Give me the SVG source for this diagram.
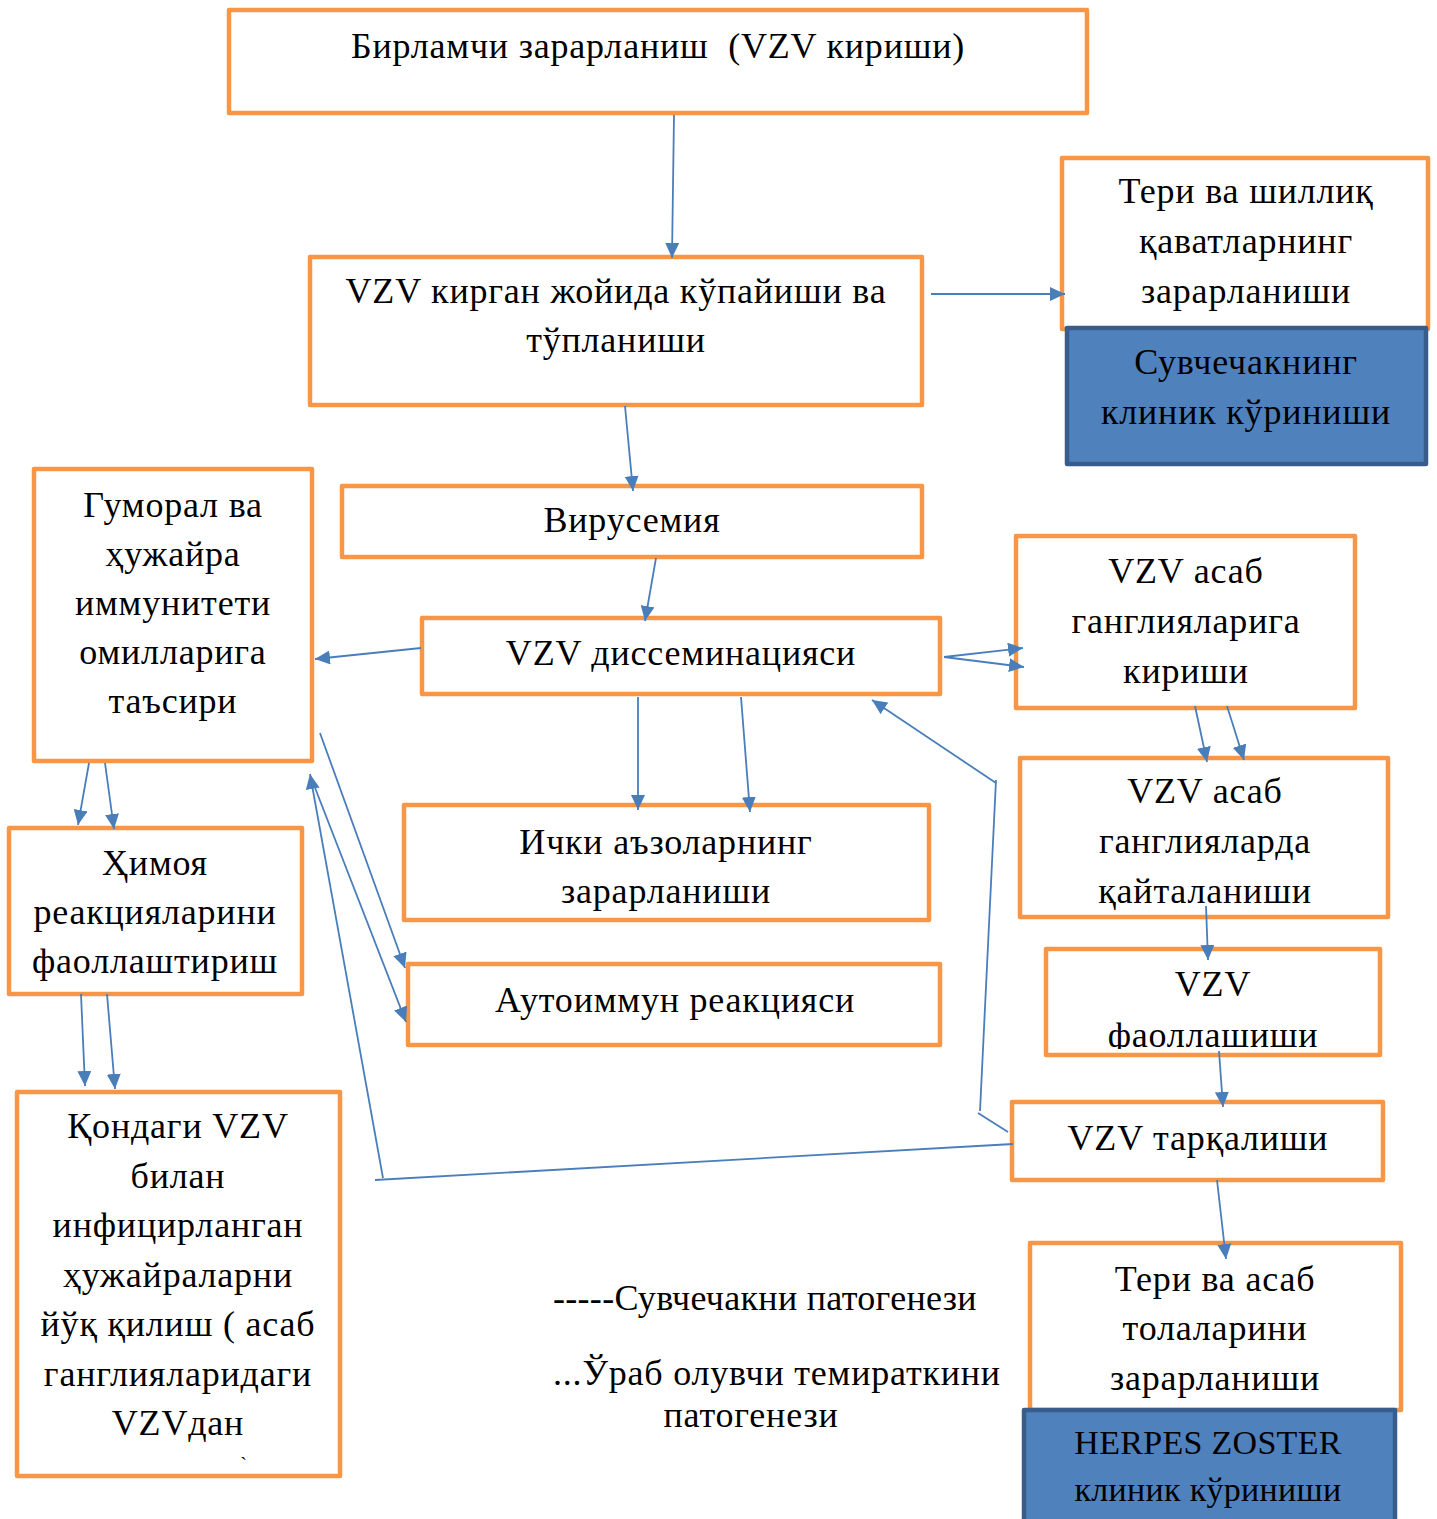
<svg xmlns="http://www.w3.org/2000/svg" width="1437" height="1519" viewBox="0 0 1437 1519">
<style>
.box{fill:#fff;stroke:#F79646;stroke-width:4.5;stroke-linejoin:round}
.blue{fill:#4F81BD;stroke:#385D8A;stroke-width:4.5;stroke-linejoin:round}
text{font-family:"Liberation Serif","Times New Roman",serif;font-size:36px;letter-spacing:0.8px;fill:#000;text-anchor:middle}
.l{text-anchor:start}
.hz{font-size:34px;letter-spacing:0.3px}
.c{fill:none;stroke:#4A7EBB;stroke-width:1.8}
.a{marker-end:url(#ah)}
</style>
<defs>
<marker id="ah" markerUnits="userSpaceOnUse" markerWidth="16" markerHeight="14" refX="15" refY="7" orient="auto">
<path d="M0,0 L15,7 L0,14 z" fill="#4A7EBB"/>
</marker>
<clipPath id="clipF"><rect x="1045" y="949" width="335" height="100"/></clipPath>
</defs>

<g id="n-primary">
<rect class="box" x="229" y="10" width="858" height="103"/>
<text x="658" y="58" xml:space="preserve">Бирламчи зарарланиш  (VZV кириши)</text>
</g>

<g id="n-multiply">
<rect class="box" x="310" y="257" width="612" height="148"/>
<text x="616" y="303">VZV кирган жойида кўпайиши ва</text>
<text x="616" y="352">тўпланиши</text>
</g>

<g id="n-skin-mucosa">
<rect class="box" x="1062" y="158" width="366" height="171"/>
<text x="1246" y="203">Тери ва шиллиқ</text>
<text x="1246" y="253">қаватларнинг</text>
<text x="1246" y="303">зарарланиши</text>
</g>

<g id="n-varicella-clinic">
<rect class="blue" x="1067" y="328" width="359" height="136"/>
<text x="1246" y="374">Сувчечакнинг</text>
<text x="1246" y="424">клиник кўриниши</text>
</g>

<g id="n-viremia">
<rect class="box" x="342" y="486" width="580" height="71"/>
<text x="632" y="532">Вирусемия</text>
</g>

<g id="n-dissemination">
<rect class="box" x="422" y="618" width="518" height="76"/>
<text x="681" y="665">VZV диссеминацияси</text>
</g>

<g id="n-humoral">
<rect class="box" x="34" y="469" width="278" height="292"/>
<text x="173" y="517">Гуморал ва</text>
<text x="173" y="566">ҳужайра</text>
<text x="173" y="615">иммунитети</text>
<text x="173" y="664">омилларига</text>
<text x="173" y="713">таъсири</text>
</g>

<g id="n-ganglia-entry">
<rect class="box" x="1016" y="536" width="339" height="172"/>
<text x="1186" y="583">VZV асаб</text>
<text x="1186" y="633">ганглияларига</text>
<text x="1186" y="683">кириши</text>
</g>

<g id="n-ganglia-repl">
<rect class="box" x="1020" y="758" width="368" height="159"/>
<text x="1205" y="803">VZV асаб</text>
<text x="1205" y="853">ганглияларда</text>
<text x="1205" y="903">қайталаниши</text>
</g>

<g id="n-organs">
<rect class="box" x="404" y="805" width="525" height="115"/>
<text x="666" y="854">Ички аъзоларнинг</text>
<text x="666" y="903">зарарланиши</text>
</g>

<g id="n-autoimmune">
<rect class="box" x="408" y="964" width="532" height="81"/>
<text x="675" y="1012">Аутоиммун реакцияси</text>
</g>

<g id="n-protection">
<rect class="box" x="9" y="828" width="293" height="166"/>
<text x="155" y="875">Ҳимоя</text>
<text x="155" y="924">реакцияларини</text>
<text x="155" y="973">фаоллаштириш</text>
</g>

<g id="n-activation">
<rect class="box" x="1046" y="949" width="334" height="106"/>
<g clip-path="url(#clipF)">
<text x="1213" y="996">VZV</text>
<text x="1213" y="1047">фаоллашиши</text>
</g>
</g>

<g id="n-spread">
<rect class="box" x="1012" y="1102" width="371" height="78"/>
<text x="1198" y="1150">VZV тарқалиши</text>
</g>

<g id="n-blood">
<rect class="box" x="17" y="1092" width="323" height="384"/>
<text x="178" y="1138">Қондаги VZV</text>
<text x="178" y="1188">билан</text>
<text x="178" y="1237">инфицирланган</text>
<text x="178" y="1287">ҳужайраларни</text>
<text x="178" y="1336">йўқ қилиш ( асаб</text>
<text x="178" y="1386">ганглияларидаги</text>
<text x="178" y="1435">VZVдан</text>
<text x="244" y="1472" style="font-size:20px">`</text>
</g>

<g id="n-skin-nerve">
<rect class="box" x="1030" y="1243" width="371" height="167"/>
<text x="1215" y="1291">Тери ва асаб</text>
<text x="1215" y="1340">толаларини</text>
<text x="1215" y="1390">зарарланиши</text>
</g>

<g id="n-zoster-clinic">
<rect class="blue" x="1024" y="1410" width="371" height="130"/>
<text class="hz" x="1208" y="1454">HERPES ZOSTER</text>
<text class="hz" x="1208" y="1501">клиник кўриниши</text>
</g>

<g id="legend">
<text class="l" x="553" y="1310" style="letter-spacing:0.3px">-----Сувчечакни патогенези</text>
<text class="l" x="553" y="1385">...Ўраб олувчи темираткини</text>
<text x="751" y="1427">патогенези</text>
</g>

<g id="connectors">
<line class="c a" x1="674" y1="115" x2="672" y2="258"/>
<line class="c a" x1="931" y1="294" x2="1065" y2="294"/>
<line class="c a" x1="625" y1="406" x2="633" y2="491"/>
<line class="c a" x1="656" y1="558" x2="645" y2="621"/>
<line class="c a" x1="421" y1="648" x2="315" y2="659"/>
<line class="c a" x1="944" y1="657" x2="1023" y2="648"/>
<line class="c a" x1="944" y1="657" x2="1024" y2="667"/>
<line class="c a" x1="1195" y1="706" x2="1207" y2="762"/>
<line class="c a" x1="1227" y1="706" x2="1244" y2="760"/>
<line class="c a" x1="1206" y1="906" x2="1208" y2="960"/>
<line class="c a" x1="1219" y1="1051" x2="1223" y2="1107"/>
<line class="c a" x1="1217" y1="1180" x2="1226" y2="1259"/>
<line class="c a" x1="638" y1="697" x2="638" y2="810"/>
<line class="c a" x1="741" y1="697" x2="750" y2="812"/>
<line class="c a" x1="996" y1="783" x2="872" y2="700"/>
<line class="c" x1="996" y1="780" x2="980" y2="1111"/>
<line class="c" x1="978" y1="1113" x2="1008" y2="1132"/>
<line class="c" x1="1013" y1="1144" x2="375" y2="1180"/>
<line class="c a" x1="383" y1="1178" x2="310" y2="774"/>
<line class="c a" x1="312" y1="780" x2="406" y2="1022"/>
<line class="c a" x1="320" y1="733" x2="405" y2="968"/>
<line class="c a" x1="89" y1="763" x2="78" y2="825"/>
<line class="c a" x1="105" y1="763" x2="114" y2="829"/>
<line class="c a" x1="81" y1="994" x2="85" y2="1086"/>
<line class="c a" x1="107" y1="994" x2="115" y2="1089"/>
</g>
</svg>
